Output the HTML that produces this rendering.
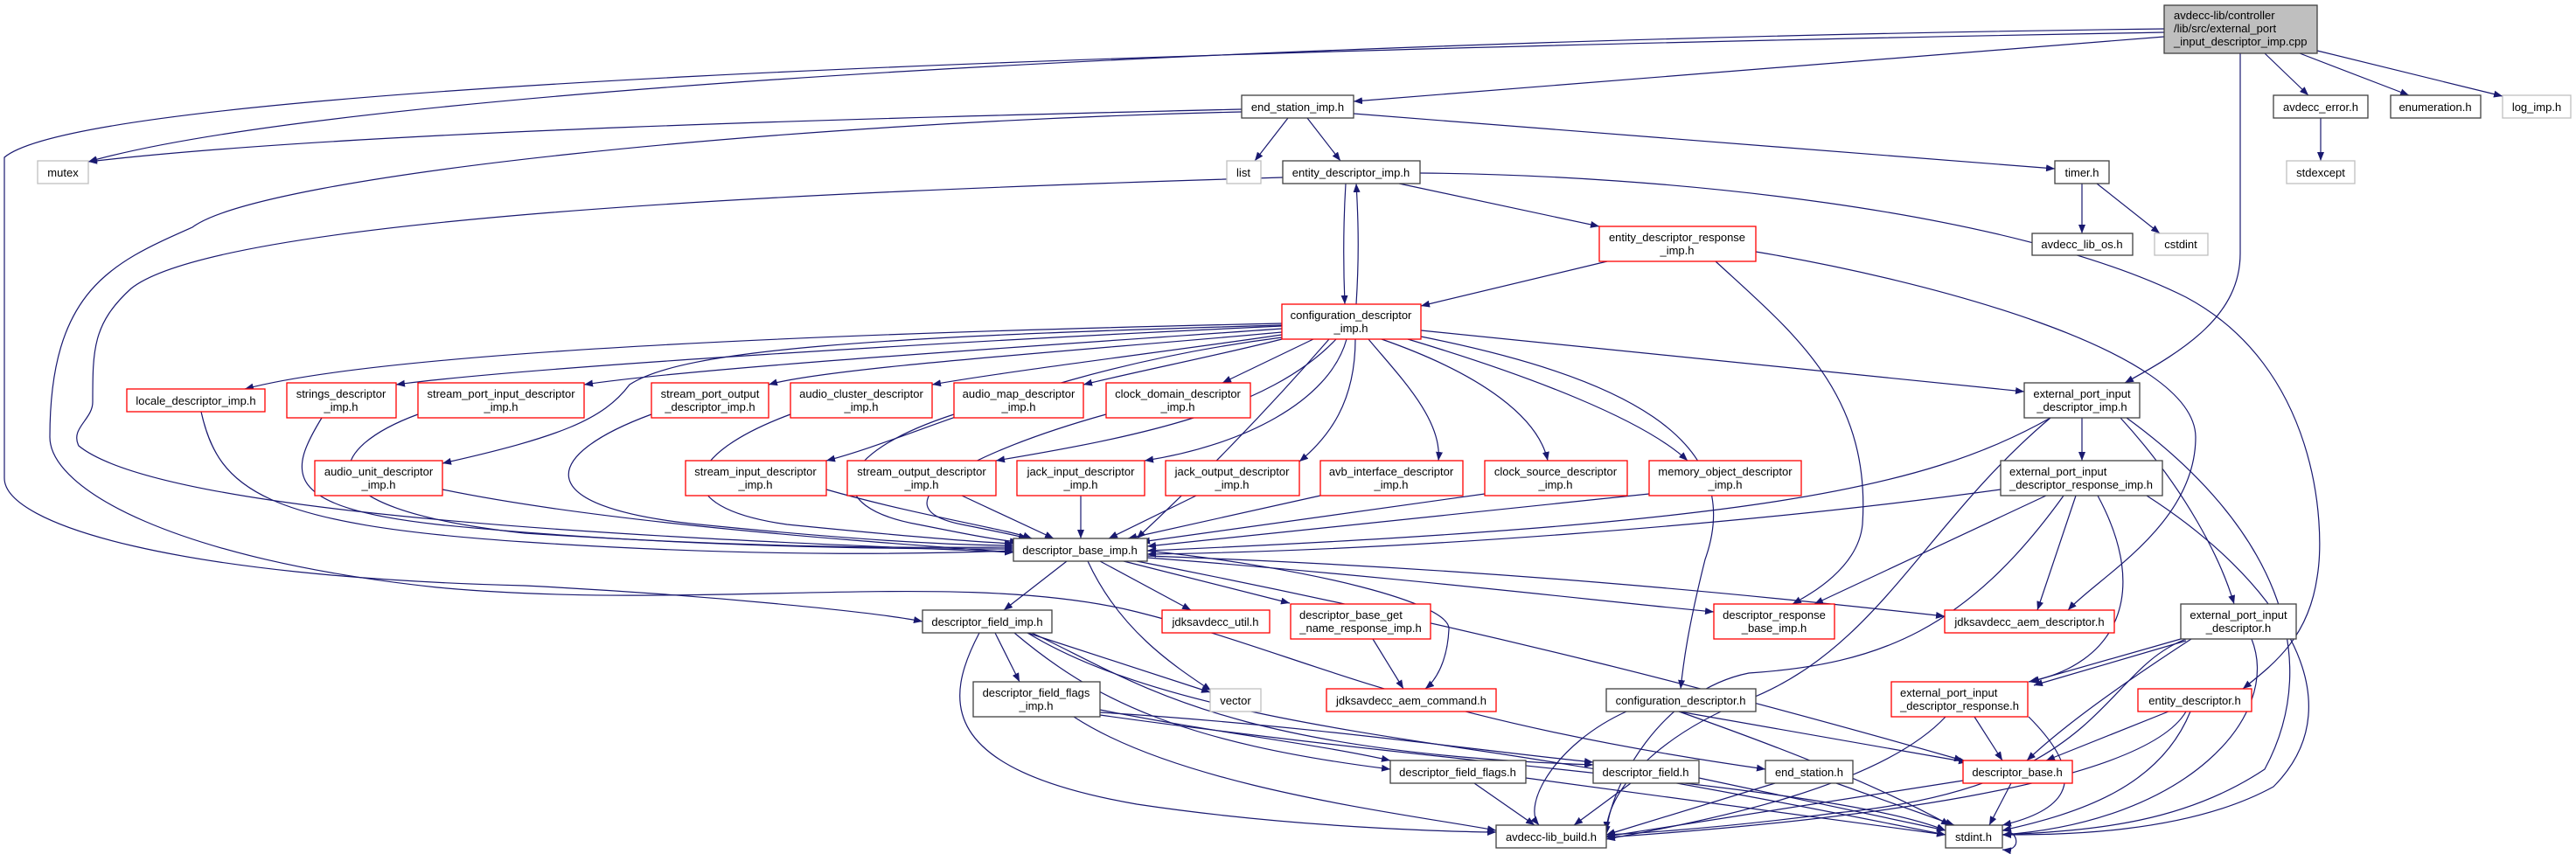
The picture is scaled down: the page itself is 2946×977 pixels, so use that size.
<!DOCTYPE html>
<html><head><meta charset="utf-8"><style>
html,body{margin:0;padding:0;background:#fff;}
svg{display:block;}
text{font-family:"Liberation Sans",Arial,sans-serif;font-size:13px;fill:#000;}
.e{fill:none;stroke:#191970;stroke-width:1.2;marker-end:url(#a);}
.n{fill:#fff;stroke:#404040;stroke-width:1.3;}
.r{fill:#fff;stroke:#ff0000;stroke-width:1.3;}
.g{fill:#fff;stroke:#bfbfbf;stroke-width:1.3;}
.m{fill:#bfbfbf;stroke:#404040;stroke-width:1.3;}
</style></head><body>
<svg width="2946" height="977" viewBox="0 0 2946 977" xmlns="http://www.w3.org/2000/svg">
<defs><marker id="a" markerWidth="10" markerHeight="8" refX="10" refY="4" orient="auto" markerUnits="userSpaceOnUse"><path d="M0,0 L10,4 L0,8z" fill="#191970"/></marker></defs>
<g>
<path class="e" d="M2475,33 C1500,45 400,100 101,185"/>
<path class="e" d="M2475,37 C1200,60 100,100 5,180 L5,547 C5,600 200,660 600,670 C800,680 1000,700 1055,711"/>
<path class="e" d="M2475,42 L1548,116"/>
<path class="e" d="M2590,61 L2640,109"/>
<path class="e" d="M2630,61 L2755,109"/>
<path class="e" d="M2650,58 L2862,110"/>
<path class="e" d="M2562,61 L2562,290 C2562,360 2500,400 2430,438"/>
<path class="e" d="M1420,125 C1000,135 400,150 101,185"/>
<path class="e" d="M1473,135 L1435,184"/>
<path class="e" d="M1495,135 L1533,184"/>
<path class="e" d="M1548,130 L2350,193"/>
<path class="e" d="M1420,128 C900,140 300,200 220,260 C130,300 57,330 57,500 C57,560 200,640 500,672 C800,700 1100,650 1300,700 C1500,750 1600,820 2019,880"/>
<path class="e" d="M1467,203 C900,220 250,250 150,330 C106,370 106,400 106,460 C106,480 80,490 90,510 C200,600 900,620 1159,632"/>
<path class="e" d="M2381,210 L2381,267"/>
<path class="e" d="M2398,210 L2470,267"/>
<path class="e" d="M2654,135 L2654,184"/>
<path class="e" d="M1539,210 C1536,260 1536,300 1538,348"/>
<path class="e" d="M1551,348 C1554,300 1554,260 1551,210"/>
<path class="e" d="M1600,210 L1829,259"/>
<path class="e" d="M1624,198 C1900,200 2300,240 2500,340 C2650,420 2660,600 2650,660 C2640,730 2600,760 2565,788"/>
<path class="e" d="M1838,299 L1625,350"/>
<path class="e" d="M1962,299 C2050,380 2140,450 2130,600 C2125,650 2070,680 2050,691"/>
<path class="e" d="M2008,288 C2200,320 2510,400 2511,500 C2511,600 2400,660 2365,698"/>
<path class="e" d="M1625,378 L2315,448"/>
<path class="e" d="M1466,370 C1000,380 450,400 280,445"/>
<path class="e" d="M1466,373 C1100,390 600,420 453,440"/>
<path class="e" d="M1466,376 C1200,395 800,420 668,440"/>
<path class="e" d="M1466,380 C1250,400 950,420 879,440"/>
<path class="e" d="M1466,383 C1350,400 1150,425 1066,440"/>
<path class="e" d="M1466,388 C1400,405 1300,425 1239,440"/>
<path class="e" d="M1502,388 L1398,438"/>
<path class="e" d="M1466,372 C1000,385 780,400 720,440 C690,480 640,500 506,530"/>
<path class="e" d="M1466,386 C1200,420 1050,500 945,527"/>
<path class="e" d="M1528,388 C1450,470 1300,500 1139,527"/>
<path class="e" d="M1540,388 C1520,460 1420,510 1309,527"/>
<path class="e" d="M1550,388 C1550,460 1520,500 1486,528"/>
<path class="e" d="M1565,388 C1600,430 1650,480 1645,527"/>
<path class="e" d="M1580,388 C1700,430 1760,480 1770,527"/>
<path class="e" d="M1610,388 C1750,430 1880,480 1930,527"/>
<path class="e" d="M1520,388 C1440,480 1360,560 1300,616"/>
<path class="e" d="M1625,385 C1850,430 2000,500 1950,640 C1930,720 1925,760 1922,788"/>
<path class="e" d="M230,471 C250,560 300,600 600,620 C900,640 1100,632 1159,630"/>
<path class="e" d="M368,478 C330,540 320,580 500,600 C800,630 1100,628 1159,628"/>
<path class="e" d="M478,474 C380,510 330,580 600,610 C900,630 1100,626 1159,626"/>
<path class="e" d="M745,474 C620,520 600,580 800,600 C1000,620 1100,624 1159,624"/>
<path class="e" d="M904,474 C780,520 760,580 900,600 C1050,615 1120,620 1159,622"/>
<path class="e" d="M1091,474 C950,520 940,580 1050,600 C1100,610 1140,618 1165,620"/>
<path class="e" d="M1265,474 C1100,520 1000,580 1100,600 C1140,608 1160,612 1175,616"/>
<path class="e" d="M506,560 C700,600 1000,620 1159,632"/>
<path class="e" d="M945,560 C1050,590 1150,605 1180,616"/>
<path class="e" d="M1100,567 L1205,616"/>
<path class="e" d="M1236,567 L1236,616"/>
<path class="e" d="M1368,567 L1268,616"/>
<path class="e" d="M1510,567 L1290,616"/>
<path class="e" d="M1698,565 L1305,620"/>
<path class="e" d="M1886,565 L1312,625"/>
<path class="e" d="M2345,478 C2200,560 2000,600 1312,630"/>
<path class="e" d="M2288,560 C2000,600 1600,630 1312,634"/>
<path class="e" d="M1220,642 L1148,698"/>
<path class="e" d="M1258,642 L1362,698"/>
<path class="e" d="M1285,642 L1475,690"/>
<path class="e" d="M1244,642 C1280,720 1340,760 1385,790"/>
<path class="e" d="M1312,630 C1500,650 1660,690 1657,720 C1655,760 1640,780 1630,788"/>
<path class="e" d="M1312,638 C1600,660 1850,690 1960,700"/>
<path class="e" d="M1312,636 C1700,650 2000,680 2224,705"/>
<path class="e" d="M1300,642 C1700,720 2000,800 2245,870"/>
<path class="e" d="M1138,724 L1166,780"/>
<path class="e" d="M1175,724 L1384,792"/>
<path class="e" d="M1160,724 C1250,800 1350,850 1590,880"/>
<path class="e" d="M1180,724 C1300,780 1400,860 1822,875"/>
<path class="e" d="M1120,724 C1080,800 1070,880 1300,920 C1500,950 1700,952 1711,952"/>
<path class="e" d="M1175,724 C1300,800 1500,830 1700,860 C1900,890 2100,930 2225,955"/>
<path class="e" d="M1258,812 C1400,840 1500,850 1590,870"/>
<path class="e" d="M1258,815 C1500,830 1700,860 1822,872"/>
<path class="e" d="M1228,820 C1350,900 1600,930 1711,950"/>
<path class="e" d="M1258,818 C1700,880 2100,900 2225,950"/>
<path class="e" d="M1570,731 L1605,788"/>
<path class="e" d="M1860,814 C1780,850 1740,920 1760,944"/>
<path class="e" d="M1920,814 L2250,872"/>
<path class="e" d="M1920,814 C2050,860 2150,900 2230,944"/>
<path class="e" d="M1686,896 L1755,944"/>
<path class="e" d="M1745,890 L2225,955"/>
<path class="e" d="M1865,896 L1800,944"/>
<path class="e" d="M1943,890 L2225,950"/>
<path class="e" d="M2030,896 L1837,955"/>
<path class="e" d="M2100,896 L2235,944"/>
<path class="e" d="M2245,893 L1837,957"/>
<path class="e" d="M2300,896 L2275,944"/>
<path class="e" d="M2258,820 L2290,870"/>
<path class="e" d="M2225,820 C2150,900 1950,940 1837,960"/>
<path class="e" d="M2320,820 C2400,900 2350,930 2290,944"/>
<path class="e" d="M2480,814 L2340,870"/>
<path class="e" d="M2500,814 C2450,900 2100,940 1837,958"/>
<path class="e" d="M2505,814 C2470,900 2380,930 2290,950"/>
<path class="e" d="M2494,731 L2322,780"/>
<path class="e" d="M2500,733 L2326,784"/>
<path class="e" d="M2506,731 C2400,800 2350,840 2318,870"/>
<path class="e" d="M2500,731 C2400,770 2410,900 2100,930 C1950,950 1840,955 1837,955"/>
<path class="e" d="M2575,731 C2610,820 2500,940 2290,955"/>
<path class="e" d="M2381,478 L2381,527"/>
<path class="e" d="M2425,478 C2500,560 2540,640 2555,691"/>
<path class="e" d="M2345,478 C2200,600 2150,740 2000,800 C1900,840 1840,900 1837,950"/>
<path class="e" d="M2432,478 C2600,600 2660,750 2590,880 C2500,940 2400,950 2290,955"/>
<path class="e" d="M2340,567 L2075,691"/>
<path class="e" d="M2374,567 L2330,698"/>
<path class="e" d="M2399,567 C2460,680 2420,760 2320,780"/>
<path class="e" d="M2360,567 C2250,720 2150,760 2000,770 C1900,790 1840,900 1837,955"/>
<path class="e" d="M2455,567 C2600,660 2700,800 2600,900 C2500,955 2350,955 2290,955"/>
<path class="e" d="M2290,950 C2310,950 2312,975 2290,972"/>
</g>
<g>
<rect class="m" x="2475" y="6" width="175" height="55"/>
<text x="2486" y="22">avdecc-lib/controller</text><text x="2486" y="37">/lib/src/external_port</text><text x="2486" y="52">_input_descriptor_imp.cpp</text>
<rect class="n" x="1420" y="109" width="128" height="26"/><text x="1484" y="127" text-anchor="middle">end_station_imp.h</text>
<rect class="g" x="43" y="184" width="58" height="26"/><text x="72" y="202" text-anchor="middle">mutex</text>
<rect class="g" x="1403" y="184" width="39" height="26"/><text x="1422" y="202" text-anchor="middle">list</text>
<rect class="n" x="1467" y="184" width="157" height="26"/><text x="1545" y="202" text-anchor="middle">entity_descriptor_imp.h</text>
<rect class="n" x="2350" y="184" width="62" height="26"/><text x="2381" y="202" text-anchor="middle">timer.h</text>
<rect class="n" x="2600" y="109" width="108" height="26"/><text x="2654" y="127" text-anchor="middle">avdecc_error.h</text>
<rect class="n" x="2734" y="109" width="103" height="26"/><text x="2785" y="127" text-anchor="middle">enumeration.h</text>
<rect class="g" x="2862" y="109" width="78" height="26"/><text x="2901" y="127" text-anchor="middle">log_imp.h</text>
<rect class="g" x="2615" y="184" width="78" height="26"/><text x="2654" y="202" text-anchor="middle">stdexcept</text>
<rect class="n" x="2324" y="267" width="115" height="25"/><text x="2381" y="284" text-anchor="middle">avdecc_lib_os.h</text>
<rect class="g" x="2464" y="267" width="61" height="25"/><text x="2494" y="284" text-anchor="middle">cstdint</text>
<rect class="r" x="1829" y="259" width="179" height="40"/><text x="1918" y="276" text-anchor="middle">entity_descriptor_response</text><text x="1918" y="291" text-anchor="middle">_imp.h</text>
<rect class="r" x="1466" y="348" width="159" height="40"/><text x="1545" y="365" text-anchor="middle">configuration_descriptor</text><text x="1545" y="380" text-anchor="middle">_imp.h</text>
<rect class="r" x="145" y="445" width="158" height="26"/><text x="224" y="463" text-anchor="middle">locale_descriptor_imp.h</text>
<rect class="r" x="328" y="438" width="125" height="40"/><text x="390" y="455" text-anchor="middle">strings_descriptor</text><text x="390" y="470" text-anchor="middle">_imp.h</text>
<rect class="r" x="478" y="438" width="190" height="40"/><text x="573" y="455" text-anchor="middle">stream_port_input_descriptor</text><text x="573" y="470" text-anchor="middle">_imp.h</text>
<rect class="r" x="745" y="438" width="134" height="40"/><text x="812" y="455" text-anchor="middle">stream_port_output</text><text x="812" y="470" text-anchor="middle">_descriptor_imp.h</text>
<rect class="r" x="904" y="438" width="162" height="40"/><text x="985" y="455" text-anchor="middle">audio_cluster_descriptor</text><text x="985" y="470" text-anchor="middle">_imp.h</text>
<rect class="r" x="1091" y="438" width="148" height="40"/><text x="1165" y="455" text-anchor="middle">audio_map_descriptor</text><text x="1165" y="470" text-anchor="middle">_imp.h</text>
<rect class="r" x="1265" y="438" width="165" height="40"/><text x="1347" y="455" text-anchor="middle">clock_domain_descriptor</text><text x="1347" y="470" text-anchor="middle">_imp.h</text>
<rect class="n" x="2315" y="438" width="132" height="40"/><text x="2381" y="455" text-anchor="middle">external_port_input</text><text x="2381" y="470" text-anchor="middle">_descriptor_imp.h</text>
<rect class="r" x="360" y="527" width="146" height="40"/><text x="433" y="544" text-anchor="middle">audio_unit_descriptor</text><text x="433" y="559" text-anchor="middle">_imp.h</text>
<rect class="r" x="784" y="527" width="161" height="40"/><text x="864" y="544" text-anchor="middle">stream_input_descriptor</text><text x="864" y="559" text-anchor="middle">_imp.h</text>
<rect class="r" x="969" y="527" width="170" height="40"/><text x="1054" y="544" text-anchor="middle">stream_output_descriptor</text><text x="1054" y="559" text-anchor="middle">_imp.h</text>
<rect class="r" x="1163" y="527" width="146" height="40"/><text x="1236" y="544" text-anchor="middle">jack_input_descriptor</text><text x="1236" y="559" text-anchor="middle">_imp.h</text>
<rect class="r" x="1333" y="527" width="153" height="40"/><text x="1409" y="544" text-anchor="middle">jack_output_descriptor</text><text x="1409" y="559" text-anchor="middle">_imp.h</text>
<rect class="r" x="1510" y="527" width="163" height="40"/><text x="1591" y="544" text-anchor="middle">avb_interface_descriptor</text><text x="1591" y="559" text-anchor="middle">_imp.h</text>
<rect class="r" x="1698" y="527" width="163" height="40"/><text x="1779" y="544" text-anchor="middle">clock_source_descriptor</text><text x="1779" y="559" text-anchor="middle">_imp.h</text>
<rect class="r" x="1886" y="527" width="174" height="40"/><text x="1973" y="544" text-anchor="middle">memory_object_descriptor</text><text x="1973" y="559" text-anchor="middle">_imp.h</text>
<rect class="n" x="2288" y="527" width="185" height="40"/><text x="2298" y="544">external_port_input</text><text x="2380" y="559" text-anchor="middle">_descriptor_response_imp.h</text>
<rect class="n" x="1159" y="616" width="153" height="26"/><text x="1235" y="634" text-anchor="middle">descriptor_base_imp.h</text>
<rect class="n" x="1055" y="698" width="148" height="26"/><text x="1129" y="716" text-anchor="middle">descriptor_field_imp.h</text>
<rect class="r" x="1329" y="698" width="123" height="26"/><text x="1390" y="716" text-anchor="middle">jdksavdecc_util.h</text>
<rect class="r" x="1476" y="691" width="160" height="40"/><text x="1486" y="708">descriptor_base_get</text><text x="1556" y="723" text-anchor="middle">_name_response_imp.h</text>
<rect class="r" x="1960" y="691" width="138" height="40"/><text x="2029" y="708" text-anchor="middle">descriptor_response</text><text x="2029" y="723" text-anchor="middle">_base_imp.h</text>
<rect class="r" x="2224" y="698" width="194" height="26"/><text x="2321" y="716" text-anchor="middle">jdksavdecc_aem_descriptor.h</text>
<rect class="n" x="2494" y="691" width="132" height="40"/><text x="2560" y="708" text-anchor="middle">external_port_input</text><text x="2560" y="723" text-anchor="middle">_descriptor.h</text>
<rect class="n" x="1113" y="780" width="145" height="40"/><text x="1185" y="797" text-anchor="middle">descriptor_field_flags</text><text x="1185" y="812" text-anchor="middle">_imp.h</text>
<rect class="g" x="1384" y="788" width="58" height="26"/><text x="1413" y="806" text-anchor="middle">vector</text>
<rect class="r" x="1517" y="788" width="194" height="26"/><text x="1614" y="806" text-anchor="middle">jdksavdecc_aem_command.h</text>
<rect class="n" x="1837" y="788" width="171" height="26"/><text x="1922" y="806" text-anchor="middle">configuration_descriptor.h</text>
<rect class="r" x="2163" y="780" width="156" height="40"/><text x="2173" y="797">external_port_input</text><text x="2241" y="812" text-anchor="middle">_descriptor_response.h</text>
<rect class="r" x="2445" y="788" width="130" height="26"/><text x="2510" y="806" text-anchor="middle">entity_descriptor.h</text>
<rect class="n" x="1590" y="870" width="155" height="26"/><text x="1667" y="888" text-anchor="middle">descriptor_field_flags.h</text>
<rect class="n" x="1822" y="870" width="121" height="26"/><text x="1882" y="888" text-anchor="middle">descriptor_field.h</text>
<rect class="n" x="2019" y="870" width="100" height="26"/><text x="2069" y="888" text-anchor="middle">end_station.h</text>
<rect class="r" x="2245" y="870" width="125" height="26"/><text x="2307" y="888" text-anchor="middle">descriptor_base.h</text>
<rect class="n" x="1711" y="944" width="126" height="26"/><text x="1774" y="962" text-anchor="middle">avdecc-lib_build.h</text>
<rect class="n" x="2225" y="944" width="65" height="26"/><text x="2257" y="962" text-anchor="middle">stdint.h</text>
</g>
</svg>
</body></html>
